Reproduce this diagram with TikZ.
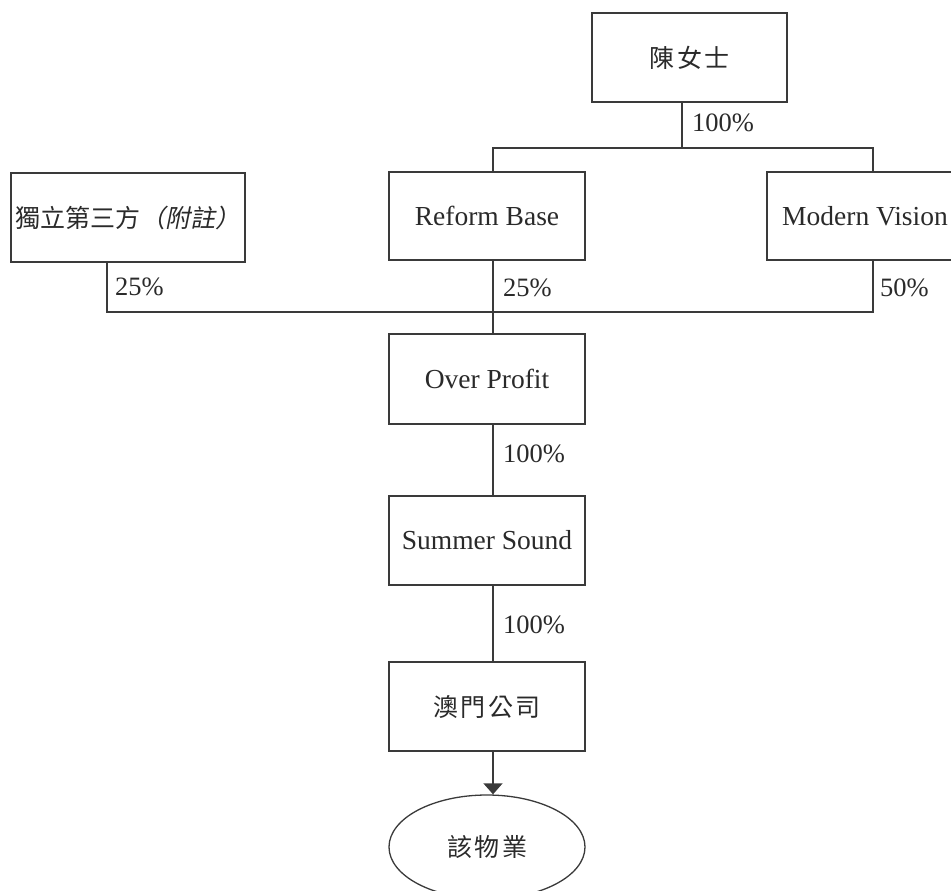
\documentclass[tikz,border=0pt]{standalone}
\usepackage{fontspec}
\setmainfont{Liberation Serif}
\newfontfamily\cjk[LetterSpace=10]{Noto Sans CJK TC}
\newfontfamily\cjkn{Noto Sans CJK TC}
\newfontfamily\cjkit[FakeSlant=0.2]{Noto Sans CJK TC}
\usetikzlibrary{shapes.geometric,arrows.meta}
\definecolor{ink}{HTML}{2A2A2A}
\definecolor{wire}{HTML}{3A3A3A}
\tikzset{
  ent/.style={draw=wire, line width=1.3pt, rectangle, minimum width=196pt, minimum height=89pt, inner sep=0pt, text=ink, font=\fontsize{27.5}{32}\selectfont},
  pct/.style={anchor=west, inner sep=0pt, text=ink, font=\fontsize{26.5}{30}\selectfont},
  wirel/.style={draw=wire, line width=1.3pt},
}
\begin{document}
\begin{tikzpicture}[x=1pt,y=-1pt]
\useasboundingbox (0,0) rectangle (951,891);
\node[ent, minimum width=195pt] (chen) at (689.5,57.5) {\cjk\fontsize{25}{30}\selectfont 陳女士};
\node[ent, minimum width=234pt] (indep) at (128,217.5) {\fontsize{25}{30}\selectfont\cjkn 獨立第三方\cjkit（附註）};
\node[ent, minimum height=88pt] (reform) at (487,216) {Reform Base};
\node[ent, minimum height=88pt] (modern) at (865,216) {Modern Vision};
\node[ent, minimum height=90pt] (over) at (487,379) {Over Profit};
\node[ent] (summer) at (487,540.5) {Summer Sound};
\node[ent] (macau) at (487,706.5) {\cjk\fontsize{25}{30}\selectfont 澳門公司};
\node[draw=wire, line width=1.3pt, ellipse, minimum width=196pt, minimum height=104pt, inner sep=0pt, text=ink] (prop) at (487,847) {\cjk\fontsize{25}{30}\selectfont 該物業};

\coordinate (busT) at (0,148);
\coordinate (busB) at (0,312);

\draw[wirel] ([xshift=-7.5pt]chen.south) -- ([xshift=-7.5pt]chen.south |- busT);
\draw[wirel] ([xshift=6pt]reform.north) -- ([xshift=6pt]reform.north |- busT) -- ([xshift=8pt]modern.north |- busT) -- ([xshift=8pt]modern.north);
\draw[wirel] ([xshift=-21pt]indep.south) -- ([xshift=-21pt]indep.south |- busB) -- ([xshift=8pt]modern.south |- busB) -- ([xshift=8pt]modern.south);
\draw[wirel] ([xshift=6pt]reform.south) -- ([xshift=6pt]over.north);
\draw[wirel] ([xshift=6pt]over.south) -- ([xshift=6pt]summer.north);
\draw[wirel] ([xshift=6pt]summer.south) -- ([xshift=6pt]macau.north);
\draw[wirel, -{Triangle[width=19pt,length=11pt]}] ([xshift=6pt]macau.south) -- ([xshift=6pt]prop.north);

\node[pct] (p1) at (692,123) {100\%};
\node[pct] (p2) at (115,287) {25\%};
\node[pct] (p3) at (503,288) {25\%};
\node[pct] (p4) at (880,288) {50\%};
\node[pct] (p5) at (503,454) {100\%};
\node[pct] (p6) at (503,625) {100\%};
\end{tikzpicture}
\end{document}
